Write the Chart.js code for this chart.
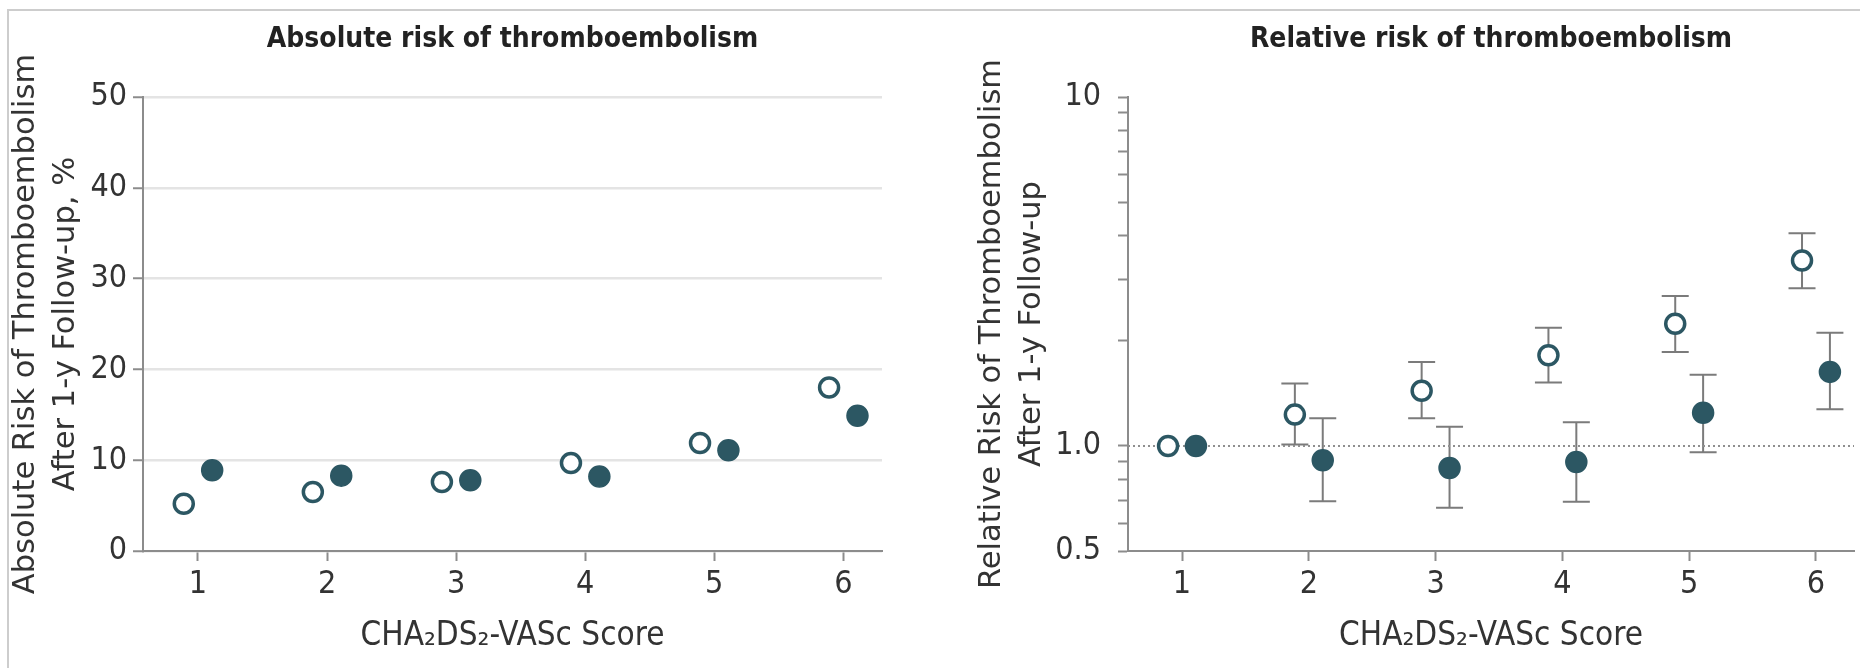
<!DOCTYPE html>
<html>
<head>
<meta charset="utf-8">
<script src="https://cdn.jsdelivr.net/npm/chart.js@4.4.1/dist/chart.umd.min.js"></script>
<style>
  html, body { margin: 0; padding: 0; background: #fff; width: 1860px; height: 668px; overflow: hidden; }
  #frame { position: absolute; left: 7px; top: 9px; width: 1900px; height: 700px;
           border-top: 2px solid #cdcdcd; border-left: 2px solid #cdcdcd; }
  .panel { position: absolute; top: 0; height: 668px; overflow: hidden; }
  #absPanel { left: 0; width: 930px; }
  #relPanel { left: 930px; width: 930px; }
  canvas { display: block; }
</style>
</head>
<body>
<div id="frame"></div>
<div class="panel" id="absPanel"><canvas id="absChart" width="930" height="668"></canvas></div>
<div class="panel" id="relPanel"><canvas id="relChart" width="937" height="668"></canvas></div>
<script>
// CHA2DS2-VASc score categories
const scores = [1, 2, 3, 4, 5, 6];

// Absolute 1-year risk of thromboembolism, %
const absRiskOpen   = [5.2, 6.5, 7.6, 9.7, 11.9, 18.0];
const absRiskFilled = [8.9, 8.3, 7.8, 8.2, 11.1, 14.9];
const absTicks = [0, 10, 20, 30, 40, 50];

// Relative risk (score 1 is the reference) with 95% CI
const relRiskOpen   = [1.0, 1.23, 1.44, 1.82, 2.24, 3.40];
const relLowOpen    = [null, 1.01, 1.20, 1.52, 1.86, 2.83];
const relHighOpen   = [null, 1.51, 1.74, 2.18, 2.69, 4.07];
const relRiskFilled = [1.0, 0.91, 0.865, 0.90, 1.245, 1.63];
const relLowFilled  = [null, 0.694, 0.665, 0.692, 0.96, 1.275];
const relHighFilled = [null, 1.20, 1.135, 1.17, 1.60, 2.11];
const relTicks = [0.5, 0.6, 0.7, 0.8, 0.9, 1, 2, 3, 4, 5, 6, 7, 8, 9, 10];
const relTickValues = [0.5, 1, 10];
const relTickLabels = ['0.5', '1.0', '10'];
const relReference = 1;

// styling
const FONT = '"DejaVu Sans Condensed", "Liberation Sans Narrow", "DejaVu Sans", sans-serif';
const FONT_WIDE = '"DejaVu Sans", "Liberation Sans", sans-serif';
const TEAL = '#2c5763';
const AXIS = '#8c8c8c';
const TEXT = '#333333';
const X_MIN = 0.574, X_MAX = 6.30;
const DODGE = 0.11;
const CAP = 27;

Chart.defaults.font.family = FONT;
Chart.defaults.color = TEXT;
Chart.defaults.animation = false;
Chart.defaults.events = [];

const pts = (vals, shift) => vals.map((v, i) => ({ x: scores[i] + shift, y: v }));

const openStyle = {
  type: 'scatter', pointRadius: 9.5, pointBorderWidth: 3.5,
  pointBackgroundColor: '#ffffff', pointBorderColor: TEAL, order: 1
};
const filledStyle = {
  type: 'scatter', pointRadius: 10.5, pointBorderWidth: 1.5,
  pointBackgroundColor: TEAL, pointBorderColor: TEAL, order: 1
};

// whiskers for confidence intervals, drawn before the markers
const errorBars = {
  id: 'errorBars',
  beforeDatasetsDraw(chart) {
    const { ctx, scales: { x, y } } = chart;
    ctx.save();
    ctx.strokeStyle = '#7b7b7b';
    ctx.lineWidth = 2;
    chart.data.datasets.forEach(ds => {
      if (!ds.errLow) return;
      ds.data.forEach((p, i) => {
        const lo = ds.errLow[i], hi = ds.errHigh[i];
        if (lo == null || hi == null) return;
        const px = x.getPixelForValue(p.x);
        const yl = y.getPixelForValue(lo), yh = y.getPixelForValue(hi);
        ctx.beginPath();
        ctx.moveTo(px, yl); ctx.lineTo(px, yh);
        ctx.moveTo(px - CAP / 2, yl); ctx.lineTo(px + CAP / 2, yl);
        ctx.moveTo(px - CAP / 2, yh); ctx.lineTo(px + CAP / 2, yh);
        ctx.stroke();
      });
    });
    ctx.restore();
  }
};

function xScale() {
  return {
    type: 'linear', min: X_MIN, max: X_MAX,
    afterBuildTicks: s => { s.ticks = scores.map(v => ({ value: v })); },
    afterFit: s => { s.height = 117; },
    grid: { drawOnChartArea: false, tickLength: 10, tickColor: AXIS, tickWidth: 2 },
    border: { color: AXIS, width: 2 },
    ticks: { font: { size: 32 }, color: TEXT, padding: 4, maxRotation: 0, autoSkip: false },
    title: { display: true, text: 'CHA₂DS₂-VASc Score', color: TEXT,
             font: { size: 33, lineHeight: 1.2 }, padding: { top: 0, bottom: 12 } }
  };
}

function chartTitle(text) {
  return { display: true, text, fullSize: false, color: '#222222',
           font: { size: 28, weight: 'bold', lineHeight: 1.2 },
           padding: { top: 23, bottom: 40.4 } };
}

// Absolute risk panel
new Chart(document.getElementById('absChart'), {
  type: 'scatter',
  data: {
    datasets: [
      { ...openStyle, data: pts(absRiskOpen, -DODGE) },
      { ...filledStyle, data: pts(absRiskFilled, DODGE) }
    ]
  },
  options: {
    responsive: false,
    layout: { padding: { left: 0, right: 48, top: 0, bottom: 0 } },
    plugins: { legend: { display: false }, tooltip: { enabled: false },
               title: chartTitle('Absolute risk of thromboembolism') },
    scales: {
      x: xScale(),
      y: {
        type: 'linear', min: 0, max: 50,
        afterBuildTicks: s => { s.ticks = absTicks.map(v => ({ value: v })); },
        afterFit: s => { s.width = 143; },
        grid: { color: '#e4e4e4', lineWidth: 2.5, tickLength: 10, tickColor: AXIS, tickWidth: 2 },
        border: { color: AXIS, width: 2 },
        ticks: { font: { size: 32 }, color: TEXT, padding: 6, autoSkip: false },
        title: { display: true, color: TEXT,
                 text: ['Absolute Risk of Thromboembolism', 'After 1-y Follow-up, %'],
                 font: { family: FONT_WIDE, size: 30.5, lineHeight: 1.33 }, padding: { top: 5.5, bottom: 0 } }
      }
    }
  }
});

// Relative risk panel
new Chart(document.getElementById('relChart'), {
  type: 'scatter',
  data: {
    datasets: [
      { type: 'line', data: [{ x: X_MIN, y: relReference }, { x: X_MAX, y: relReference }],
        borderColor: '#8f8f8f', borderWidth: 2, borderDash: [2, 3], pointRadius: 0, order: 3 },
      { ...openStyle, data: pts(relRiskOpen, -DODGE), errLow: relLowOpen, errHigh: relHighOpen },
      { ...filledStyle, data: pts(relRiskFilled, DODGE), errLow: relLowFilled, errHigh: relHighFilled }
    ]
  },
  options: {
    responsive: false,
    layout: { padding: 0 },
    plugins: { legend: { display: false }, tooltip: { enabled: false },
               title: chartTitle('Relative risk of thromboembolism') },
    scales: {
      x: xScale(),
      y: {
        type: 'logarithmic', min: 0.5, max: 10,
        afterBuildTicks: s => { s.ticks = relTicks.map(v => ({ value: v })); },
        afterFit: s => { s.width = 198; },
        grid: { drawOnChartArea: false, tickLength: 10, tickColor: AXIS, tickWidth: 2 },
        border: { color: AXIS, width: 2 },
        ticks: {
          font: { size: 32 }, color: TEXT, padding: 17, autoSkip: false,
          callback: v => {
            const k = relTickValues.findIndex(t => Math.abs(t - v) < 1e-9);
            return k >= 0 ? relTickLabels[k] : '';
          }
        },
        title: { display: true, color: TEXT,
                 text: ['Relative Risk of Thromboembolism', 'After 1-y Follow-up'],
                 font: { family: FONT_WIDE, size: 30.5, lineHeight: 1.33 }, padding: { top: 41.5, bottom: 0 } }
      }
    }
  },
  plugins: [errorBars]
});
</script>
</body>
</html>
